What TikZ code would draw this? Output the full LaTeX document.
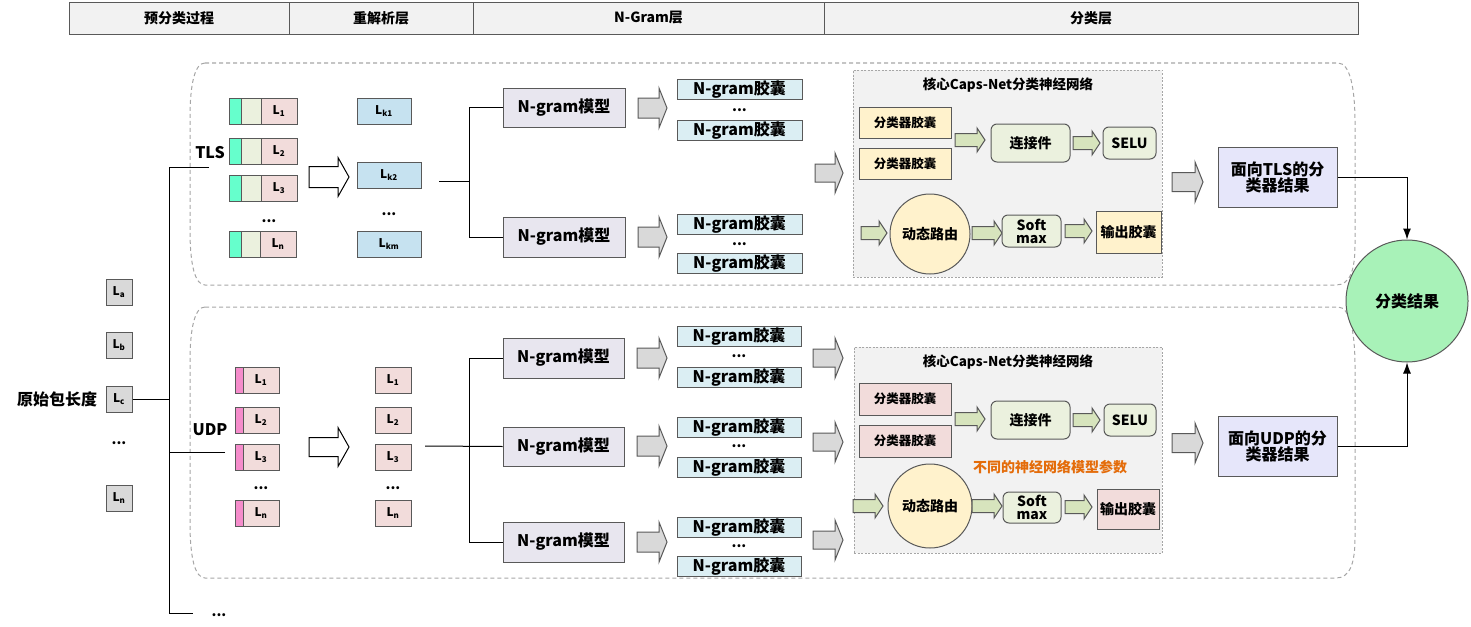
\documentclass[tikz,border=0pt]{standalone}
\usepackage{fontspec}
\setmainfont{Noto Sans CJK SC}
\usetikzlibrary{arrows.meta}
\definecolor{hdrfill}{HTML}{F2F2F2}
\definecolor{darkline}{HTML}{595959}
\definecolor{grpline}{HTML}{A6A6A6}
\definecolor{lgray}{HTML}{D9D9D9}
\definecolor{tcyan}{HTML}{66FFCC}
\definecolor{pgreen}{HTML}{EBF1DE}
\definecolor{ppink}{HTML}{F2DCDB}
\definecolor{ubar}{HTML}{F58CCB}
\definecolor{kblue}{HTML}{C6E2F0}
\definecolor{modelfill}{HTML}{E8E6EF}
\definecolor{capfill}{HTML}{DBEEF3}
\definecolor{corefill}{HTML}{F2F2F2}
\definecolor{pyellow}{HTML}{FFF2CC}
\definecolor{arrgreen}{HTML}{D7E4BD}
\definecolor{lav}{HTML}{E6E6FA}
\definecolor{mint}{HTML}{A8F2B8}
\definecolor{orangetxt}{HTML}{E46C0A}
\newcommand{\fsz}[1]{\fontsize{#1}{#1}\selectfont}
\newcommand{\Lsub}[1]{L\textsubscript{#1}}
\newcommand{\blockarr}[7][garr]{\draw[#1] (#2,#3-#5) -- (#4-#7,#3-#5) -- (#4-#7,#3-#6) -- (#4,#3) -- (#4-#7,#3+#6) -- (#4-#7,#3+#5) -- (#2,#3+#5) -- cycle;}
\newcommand{\grpshape}[2]{\draw[grp] (205,#1) -- (1338,#1) .. controls (1350,#1) and (1355,#1+25) .. (1355,#1+60) -- (1355,#2-40) .. controls (1355,#2-15) and (1350,#2) .. (1336,#2) -- (205,#2) .. controls (195,#2) and (190,#2-20) .. (190,#2-55) -- (190,#1+55) .. controls (190,#1+20) and (195,#1) .. (205,#1);}

\begin{document}
\begin{tikzpicture}[x=1pt,y=-1pt,
    every node/.style={inner sep=0pt,font=\fsz{14}\bfseries},
    hcell/.style={draw=darkline,fill=hdrfill,minimum height=32},
    grp/.style={draw=grpline,line width=1,dash pattern=on 4pt off 3pt},
    lbox/.style={draw=darkline,fill=lgray,line width=1,minimum width=26,minimum height=26,font=\fsz{12}\bfseries},
    seg/.style={draw=darkline,line width=1,minimum height=26,font=\fsz{12}\bfseries},
    kbox/.style={draw=darkline,fill=kblue,line width=1,minimum height=26,font=\fsz{12}\bfseries},
    model/.style={draw=darkline,fill=modelfill,line width=1,minimum width=122,minimum height=40,font=\fsz{16}\bfseries},
    capbox/.style={draw=darkline,fill=capfill,line width=1,minimum width=125,minimum height=20,font=\fsz{16}\bfseries},
    core/.style={draw=grpline,fill=corefill,dash pattern=on 2pt off 1.5pt,line width=0.8},
    cls/.style={draw=darkline,line width=1,minimum width=92,minimum height=31,font=\fsz{12.5}\bfseries},
    rbox/.style={draw=darkline,fill=pgreen,line width=1,rounded corners=6},
    dyn/.style={circle,draw=darkline,fill=pyellow,line width=1},
    res/.style={draw=darkline,fill=lav,line width=1,minimum width=119,minimum height=60,align=center,font=\fsz{16}\bfseries},
    garr/.style={draw=darkline,fill=lgray,line width=1},
    warr/.style={draw=black,fill=white,line width=1},
    sarr/.style={draw=darkline,fill=arrgreen,line width=1},
    link/.style={draw=black,line width=1}]
\useasboundingbox (0,0) rectangle (1471,626);

\node[hcell,minimum width=220] (h1) at (179,18) {预分类过程};
\node[hcell,minimum width=184] (h2) at (381,18) {重解析层};
\node[hcell,minimum width=351] (h3) at (648.5,18) {N-Gram层};
\node[hcell,minimum width=534] (h4) at (1091,18) {分类层};

\grpshape{63}{285}
\grpshape{307}{578}

\node[font=\fsz{16}\bfseries] (orig) at (57,399) {原始包长度};
\node[lbox] (la) at (119,292) {\Lsub{a}};
\node[lbox] (lb) at (119,345) {\Lsub{b}};
\node[lbox] (lc) at (119,399) {\Lsub{c}};
\node (ldots) at (119,443) {...};
\node[lbox] (ln) at (119,498) {\Lsub{n}};
\coordinate (tlsend) at (209,167);
\coordinate (udpend) at (225,452);
\coordinate (moreend) at (193,613);
\draw[link] (tlsend) -- ++(-40,0) coordinate (trunk) |- (moreend);
\draw[link] (udpend) -- (udpend -| trunk);
\draw[link] (lc.east) -- (lc.east -| trunk);
\node (more) at (219,615) {...};
\node[font=\fsz{16}\bfseries] (tls) at (210,153) {TLS};
\node[font=\fsz{16}\bfseries] (udp) at (210,430) {UDP};

\node[seg,fill=tcyan,minimum width=12] (t1a) at (235,111) {};
\node[seg,fill=pgreen,minimum width=20] (t1b) at (251,111) {};
\node[seg,fill=ppink,minimum width=36] (t1) at (279,111) {\Lsub{1}};
\node[seg,fill=tcyan,minimum width=12] (t2a) at (235,151) {};
\node[seg,fill=pgreen,minimum width=20] (t2b) at (251,151) {};
\node[seg,fill=ppink,minimum width=36] (t2) at (279,151) {\Lsub{2}};
\node[seg,fill=tcyan,minimum width=12] (t3a) at (235,188) {};
\node[seg,fill=pgreen,minimum width=20] (t3b) at (251,188) {};
\node[seg,fill=ppink,minimum width=36] (t3) at (279,188) {\Lsub{3}};
\node (tdots) at (269,221) {...};
\node[seg,fill=tcyan,minimum width=12] (tna) at (235,244) {};
\node[seg,fill=pgreen,minimum width=20] (tnb) at (251,244) {};
\node[seg,fill=ppink,minimum width=36] (tn) at (278,244) {\Lsub{n}};
\blockarr[warr]{309}{177}{349}{10.5}{19.5}{11}
\node[kbox,minimum width=54] (k1) at (384,111) {\Lsub{k1}};
\node[kbox,minimum width=64] (k2) at (389,175) {\Lsub{k2}};
\node (kdots) at (389,214) {...};
\node[kbox,minimum width=64] (km) at (389,244) {\Lsub{km}};

\coordinate (tj) at (439,181);
\coordinate (tb) at (469,181);
\node[model,minimum height=39] (tm1) at (564,107.5) {N-gram模型};
\node[model] (tm2) at (564,237) {N-gram模型};
\draw[link] (tj) -- (tb) |- (tm1.west);
\draw[link] (tb) |- (tm2.west);
\blockarr{638}{108}{667}{10}{20}{8}
\blockarr{638}{237}{667}{10}{20}{8}
\node[capbox] (tc1) at (739.5,89) {N-gram胶囊};
\node (tcd1) at (739.5,110) {...};
\node[capbox] (tc2) at (739.5,130) {N-gram胶囊};
\node[capbox] (tc3) at (739.5,224) {N-gram胶囊};
\node (tcd2) at (739.5,244) {...};
\node[capbox] (tc4) at (739.5,263) {N-gram胶囊};
\blockarr{815}{173}{843}{9}{20}{8}

\node[core,minimum width=309,minimum height=207] (tcore) at (1007.5,173.5) {};
\node[font=\fsz{13.5}\bfseries] (tcoret) at (1008,85) {核心Caps-Net分类神经网络};
\node[cls,fill=pyellow] (tk1) at (905,122.5) {分类器胶囊};
\node[cls,fill=pyellow] (tk2) at (905,163.5) {分类器胶囊};
\blockarr[sarr]{955}{140}{985}{6.5}{12}{8}
\node[rbox,minimum width=79,minimum height=38] (tlink) at (1030.5,143) {连接件};
\blockarr[sarr]{1073}{143}{1100}{6.5}{12}{8}
\node[rbox,minimum width=53,minimum height=32] (tselu) at (1129.5,143) {SELU};
\blockarr[sarr]{861}{233}{887}{6.5}{12}{8}
\node[dyn,minimum size=80] (tdyn) at (930,234) {动态路由};
\blockarr[sarr]{972}{233}{1002}{6.5}{12}{8}
\node[rbox,minimum width=59,minimum height=32,align=center,font=\fsz{14}\bfseries] (tsoft) at (1031.5,231) {Soft\\[-1pt]max};
\blockarr[sarr]{1065}{231}{1092}{6.5}{12}{8}
\node[cls,fill=pyellow,minimum width=65,minimum height=42,font=\fsz{14}\bfseries] (tout) at (1128.5,232) {输出胶囊};
\blockarr{1172}{182}{1203}{9.5}{20}{8}
\node[res] (tres) at (1277.5,177) {面向TLS的分\\类器结果};

\node[seg,fill=ubar,minimum width=8] (u1a) at (239,380) {};
\node[seg,fill=ppink,minimum width=36] (u1) at (261,380) {\Lsub{1}};
\node[seg,fill=ubar,minimum width=8] (u2a) at (239,420) {};
\node[seg,fill=ppink,minimum width=36] (u2) at (261,420) {\Lsub{2}};
\node[seg,fill=ubar,minimum width=8] (u3a) at (239,457) {};
\node[seg,fill=ppink,minimum width=36] (u3) at (261,457) {\Lsub{3}};
\node (udots) at (261,488) {...};
\node[seg,fill=ubar,minimum width=8] (una) at (239,513) {};
\node[seg,fill=ppink,minimum width=36] (un) at (261,513) {\Lsub{n}};
\blockarr[warr]{309}{447}{349}{9.5}{19.5}{11}
\node[seg,fill=ppink,minimum width=36] (v1) at (393,380) {\Lsub{1}};
\node[seg,fill=ppink,minimum width=36] (v2) at (393,420) {\Lsub{2}};
\node[seg,fill=ppink,minimum width=36] (v3) at (393,457) {\Lsub{3}};
\node (vdots) at (393,488) {...};
\node[seg,fill=ppink,minimum width=36] (vn) at (393,513) {\Lsub{n}};

\coordinate (uj) at (425,446);
\coordinate (ub) at (469,446);
\node[model,minimum width=121] (um1) at (563.5,358) {N-gram模型};
\node[model,minimum width=121,minimum height=39] (um2) at (563.5,446.5) {N-gram模型};
\node[model,minimum width=121] (um3) at (563.5,542) {N-gram模型};
\draw[link] (uj) -- (um2.west);
\draw[link] (ub) |- (um1.west);
\draw[link] (ub) |- (um3.west);
\blockarr{637}{358}{667}{10}{20}{8}
\blockarr{637}{446}{667}{10}{20}{8}
\blockarr{637}{542}{667}{10}{20}{8}
\node[capbox,minimum width=124] (uc1) at (739,336) {N-gram胶囊};
\node (ucd1) at (739,356) {...};
\node[capbox,minimum width=124] (uc2) at (739,377) {N-gram胶囊};
\node[capbox,minimum width=124] (uc3) at (739,427) {N-gram胶囊};
\node (ucd2) at (739,446) {...};
\node[capbox,minimum width=124] (uc4) at (739,467) {N-gram胶囊};
\node[capbox,minimum width=124] (uc5) at (739,527) {N-gram胶囊};
\node (ucd3) at (739,546) {...};
\node[capbox,minimum width=124] (uc6) at (739,566) {N-gram胶囊};
\blockarr{813}{358}{843}{9}{20}{8}
\blockarr{813}{442}{843}{9}{20}{8}
\blockarr{813}{540}{843}{9}{20}{8}

\node[core,minimum width=308,minimum height=206] (ucore) at (1008,450) {};
\node[font=\fsz{13.5}\bfseries] (ucoret) at (1008,362) {核心Caps-Net分类神经网络};
\node[cls,fill=ppink,minimum height=32] (uk1) at (905,399) {分类器胶囊};
\node[cls,fill=ppink,minimum height=32] (uk2) at (905,441) {分类器胶囊};
\blockarr[sarr]{955}{419}{985}{6.5}{12}{8}
\node[rbox,minimum width=79,minimum height=38] (ulink) at (1030.5,420) {连接件};
\blockarr[sarr]{1073}{420}{1100}{6.5}{12}{8}
\node[rbox,minimum width=52,minimum height=32] (uselu) at (1130,420) {SELU};
\node[text=orangetxt] (param) at (1050,467) {不同的神经网络模型参数};
\blockarr[sarr]{853}{506}{883}{6.5}{12}{8}
\node[dyn,minimum size=84] (udyn) at (930,506) {动态路由};
\blockarr[sarr]{972}{506}{1002}{6.5}{12}{8}
\node[rbox,minimum width=58,minimum height=31,align=center,font=\fsz{14}\bfseries] (usoft) at (1032,507.5) {Soft\\[-1pt]max};
\blockarr[sarr]{1065}{507}{1092}{6.5}{12}{8}
\node[cls,fill=ppink,minimum width=62,minimum height=40,font=\fsz{14}\bfseries] (uout) at (1128,509) {输出胶囊};
\blockarr{1172}{443}{1203}{9.5}{20}{8}
\node[res] (ures) at (1277.5,446) {面向UDP的分\\类器结果};

\node[circle,draw=darkline,fill=mint,line width=1,minimum size=122,font=\fsz{16}\bfseries] (final) at (1407,301) {分类结果};
\draw[link,-{Latex[length=11pt,width=8pt]}] (tres.east) -| (final.north);
\draw[link,-{Latex[length=11pt,width=8pt]}] (ures.east) -| (final.south);
\end{tikzpicture}
\end{document}
